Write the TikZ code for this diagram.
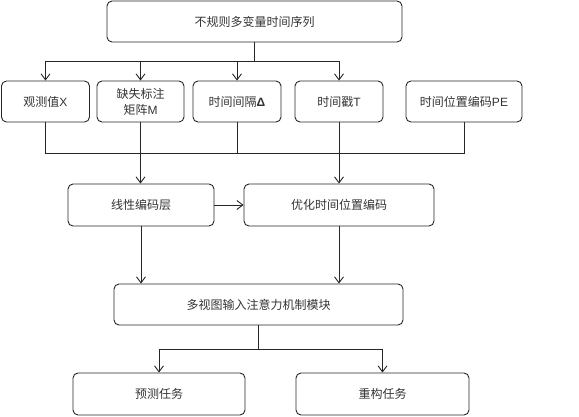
\documentclass[tikz,border=0pt]{standalone}
\usepackage{fontspec}
\setmainfont{Liberation Sans}
\newfontfamily\cjk{Noto Sans CJK SC}
\usetikzlibrary{arrows.meta}
\tikzset{
  box/.style={draw=black!85, line width=0.9pt, rounded corners=5pt, inner sep=0pt,
    font=\fontsize{12}{16}\selectfont\cjk, text=black!80, align=center},
  conn/.style={draw=black!85, line width=0.9pt},
  arr/.style={conn, -{Straight Barb[length=6pt,width=9pt,line width=0.9pt]}}
}
\begin{document}
\begin{tikzpicture}[x=1pt,y=-1pt]
\useasboundingbox (0,0) rectangle (579,416);
% nodes
\node[box, minimum width=295pt, minimum height=41pt] (top) at (254.5,21.5) {不规则多变量时间序列};
\node[box, minimum width=88pt, minimum height=41pt] (obs) at (45.5,101.5) {观测值{\rmfamily X}};
\node[box, minimum width=87pt, minimum height=41pt] (mask) at (140.5,101.5) {缺失标注\\矩阵{\rmfamily M}};
\node[box, minimum width=88pt, minimum height=41pt] (dt) at (237,101.5) {时间间隔{\rmfamily\bfseries Δ}};
\node[box, minimum width=88pt, minimum height=41pt] (ts) at (339,101.5) {时间戳{\rmfamily T}};
\node[box, minimum width=116pt, minimum height=41pt] (pe) at (464,101.5) {时间位置编码{\rmfamily PE}};
\node[box, minimum width=146pt, minimum height=42pt] (lin) at (141,205) {线性编码层};
\node[box, minimum width=190pt, minimum height=42pt] (opt) at (339,205) {优化时间位置编码};
\node[box, minimum width=289pt, minimum height=41pt] (mv) at (258.5,304.5) {多视图输入注意力机制模块};
\node[box, minimum width=172pt, minimum height=42pt] (pred) at (159,394) {预测任务};
\node[box, minimum width=173pt, minimum height=42pt] (rec) at (382.5,394) {重构任务};
% junction coordinates
\coordinate (j1) at (254.5,61);
\coordinate (j2) at (254.5,153);
\coordinate (j3) at (258.5,349);
% top fan-out
\draw[conn] (top.south) -- (top.south |- j1);
\draw[conn] (obs.north |- j1) -- (ts.north |- j1);
\draw[arr] (obs.north |- j1) -- (obs.north);
\draw[arr] (mask.north |- j1) -- (mask.north);
\draw[arr] (dt.north |- j1) -- (dt.north);
\draw[arr] (ts.north |- j1) -- (ts.north);
% lower bus
\draw[conn] (obs.south) -- (obs.south |- j2) -- (pe.south |- j2) -- (pe.south);
\draw[conn] (mask.south) -- (mask.south |- j2);
\draw[conn] (dt.south) -- (dt.south |- j2);
\draw[conn] (ts.south) -- (ts.south |- j2);
\draw[arr] (mask.south |- j2) -- (mask.south |- lin.north);
\draw[arr] (ts.south |- j2) -- (opt.north);
% middle
\draw[arr] (lin.east) -- (opt.west);
\draw[arr] (lin.south) -- (lin.south |- mv.north);
\draw[arr] (opt.south) -- (opt.south |- mv.north);
% bottom fan-out
\draw[conn] (mv.south) -- (j3);
\draw[conn] (pred.north |- j3) -- (rec.north |- j3);
\draw[arr] (pred.north |- j3) -- (pred.north);
\draw[arr] (rec.north |- j3) -- (rec.north);
\end{tikzpicture}
\end{document}
